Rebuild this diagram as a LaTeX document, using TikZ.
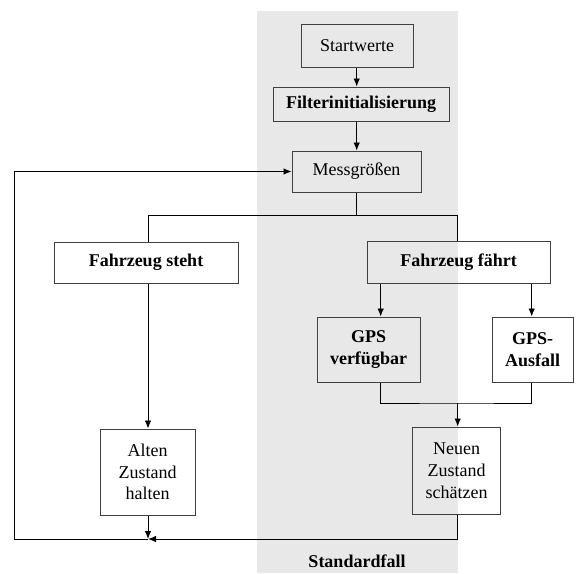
\documentclass[tikz,border=0pt]{standalone}
\usepackage{fontspec}
\setmainfont{Liberation Serif}
\usepackage{tikz}
\usetikzlibrary{positioning,arrows.meta,calc}
\definecolor{bandgray}{HTML}{E8E8E8}
\definecolor{boxline}{HTML}{404040}
\tikzset{
    x=1pt,
    y=1pt,
    block/.style = {
        draw=boxline,
        shape=rectangle,
        align=center,
        inner sep=0pt,
        line width=1pt,
        font=\fontsize{18}{21.7}\selectfont
    },
    boldblock/.style = {
        block,
        font=\fontsize{18}{21.7}\selectfont\bfseries
    },
    wire/.style = {
        draw,
        line width=0.9pt
    },
    >={Latex[length=8pt,width=6.5pt]},
}
\begin{document}
\begin{tikzpicture}
                \useasboundingbox (0,0) rectangle (585,-573);
                \fill[bandgray] (257,-11) rectangle (458,-573);

                \node[block, minimum width=112, minimum height=43] (start) at (357,-45.5) {Startwerte};
                \node[boldblock, minimum width=176, minimum height=34] (filter) at (361,-104) {Filterinitialisierung};
                \node[block, minimum width=129, minimum height=41] (mess) at (356.5,-171.5) {Messgrößen};
                \node[boldblock, minimum width=184, minimum height=41] (steht) at (146,-262.5) {Fahrzeug steht};
                \node[boldblock, minimum width=183, minimum height=42] (faehrt) at (458.5,-262) {Fahrzeug fährt};
                \node[boldblock, minimum width=103, minimum height=65] (gpsok) at (368.5,-349.5) {GPS\\verfügbar};
                \node[boldblock, minimum width=81, minimum height=65] (gpsaus) at (532.5,-349.5) {GPS-\\Ausfall};
                \node[block, minimum width=95, minimum height=86] (alt) at (147.5,-472) {Alten\\Zustand\\halten};
                \node[block, minimum width=88, minimum height=87] (neu) at (456.7,-470.5) {Neuen\\Zustand\\schätzen};
                \node[font=\fontsize{18}{21.7}\selectfont\bfseries] (std) at (357,-561) {Standardfall};

                % helper points for the wiring
                \coordinate (split) at (356.7,-215);
                \coordinate (join) at (457.7,-403);
                \coordinate (leftx) at (380.7,0);
                \coordinate (rightx) at (531.7,0);
                \coordinate (merge) at (148,-539);
                \coordinate (back) at (14,-539);

                \path[wire, ->] (start.south -| split) -- (filter.north -| split);
                \path[wire, ->] (filter.south -| split) -- (mess.north -| split);
                \path[wire] (mess.south -| split) -- (split);
                \path[wire] (split) -| (steht.north -| merge);
                \path[wire] (split) -| (faehrt.north -| join);
                \path[wire, ->] (steht.south -| merge) -- (alt.north -| merge);
                \path[wire, ->] (faehrt.south -| leftx) -- (gpsok.north -| leftx);
                \path[wire, ->] (faehrt.south -| rightx) -- (gpsaus.north -| rightx);
                \path[wire] (gpsok.south -| leftx) |- (join) -| (gpsaus.south -| rightx);
                \path[wire, ->] (join) -- (neu.north -| join);
                \path[wire, ->] (neu.south -| join) |- (merge);
                \path[wire, ->] (alt.south -| merge) -- (merge);
                \path[wire, ->] (merge) -- (back) |- (mess.west);
\end{tikzpicture}
\end{document}
